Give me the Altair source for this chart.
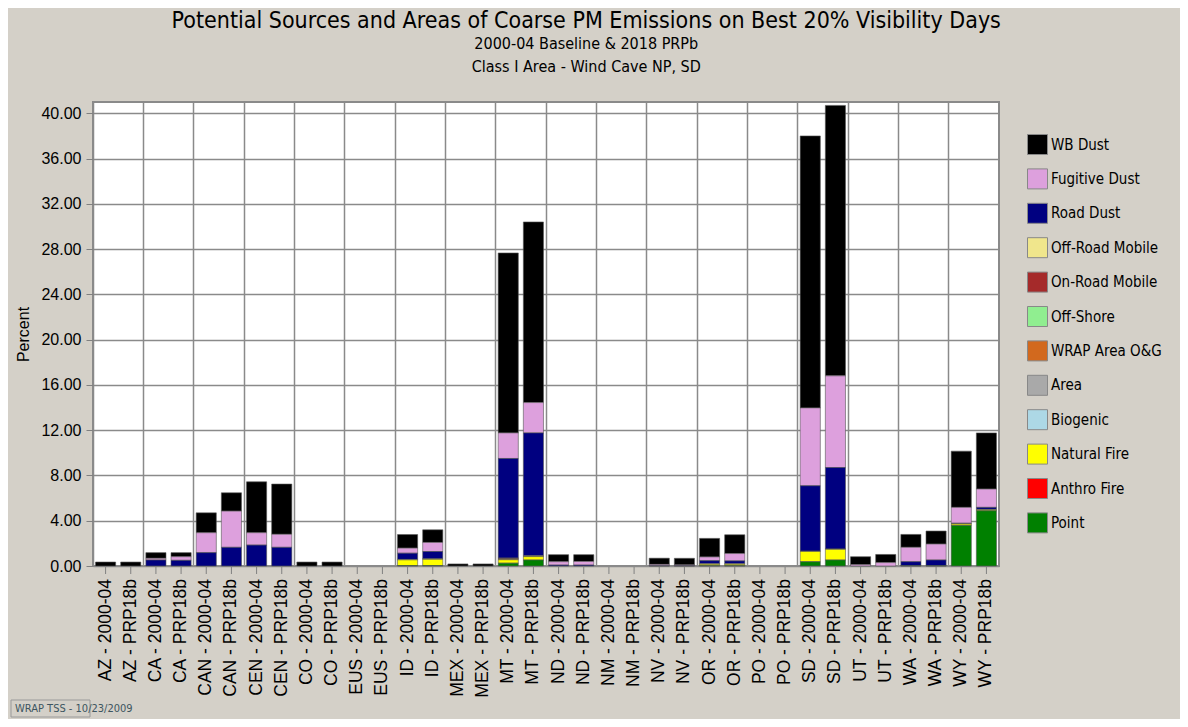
import altair as alt
import pandas as pd

states = ["AZ", "CA", "CAN", "CEN", "CO", "EUS", "ID", "MEX", "MT", "ND",
          "NM", "NV", "OR", "PO", "SD", "UT", "WA", "WY"]
scenarios = ["2000-04", "PRP18b"]

sources = ["WB Dust", "Fugitive Dust", "Road Dust", "Off-Road Mobile", "On-Road Mobile",
           "Off-Shore", "WRAP Area O&G", "Area", "Biogenic", "Natural Fire",
           "Anthro Fire", "Point"]
colors = ["#000000", "#DDA0DD", "#000080", "#F0E68C", "#A52A2A", "#90EE90",
          "#D2691E", "#A9A9A9", "#ADD8E6", "#FFFF00", "#FF0000", "#008000"]

# one value per bar: each state gives (2000-04, PRP18b)
wb_dust = [0.35, 0.35, 0.50, 0.36, 1.76, 1.62, 4.50, 4.44, 0.35, 0.35, 0, 0,
           1.20, 1.12, 0.18, 0.18, 15.90, 15.96, 0.62, 0.60, 0, 0, 0.55, 0.58,
           1.64, 1.66, 0, 0, 24.03, 23.90, 0.70, 0.72, 1.14, 1.15, 4.97, 4.96]
fugitive_dust = [0, 0, 0.15, 0.32, 1.76, 3.20, 1.09, 1.15, 0, 0, 0, 0,
                 0.45, 0.80, 0, 0, 2.26, 2.68, 0.30, 0.32, 0, 0, 0.12, 0.08,
                 0.33, 0.65, 0, 0, 6.88, 8.10, 0.12, 0.30, 1.27, 1.41, 1.40, 1.62]
road_dust = [0, 0, 0.53, 0.50, 1.18, 1.65, 1.85, 1.65, 0, 0, 0, 0,
             0.55, 0.65, 0, 0, 8.80, 10.86, 0.08, 0.08, 0, 0, 0.02, 0.02,
             0.27, 0.25, 0, 0, 5.78, 7.20, 0, 0, 0.36, 0.51, 0.04, 0.18]
off_road_mobile = [0, 0, 0, 0, 0, 0, 0, 0, 0, 0, 0, 0,
                   0.04, 0.04, 0, 0, 0.04, 0.04, 0, 0, 0, 0, 0, 0,
                   0.05, 0.05, 0, 0, 0.03, 0.03, 0, 0, 0, 0, 0.03, 0.04]
on_road_mobile = [0, 0, 0, 0, 0, 0, 0, 0, 0, 0, 0, 0,
                  0, 0, 0, 0, 0.05, 0.03, 0, 0, 0, 0, 0, 0,
                  0, 0, 0, 0, 0, 0, 0, 0, 0, 0, 0, 0]
off_shore = [0] * 36
wrap_area_og = [0, 0, 0, 0, 0, 0, 0, 0, 0, 0, 0, 0,
                0, 0, 0, 0, 0.06, 0, 0, 0, 0, 0, 0, 0,
                0, 0, 0, 0, 0, 0, 0, 0, 0, 0, 0, 0]
area = [0] * 36
biogenic = [0] * 36
natural_fire = [0, 0, 0, 0, 0, 0, 0, 0, 0, 0, 0, 0,
                0.50, 0.55, 0, 0, 0.30, 0.30, 0, 0, 0, 0, 0, 0,
                0.12, 0.12, 0, 0, 0.90, 0.94, 0, 0, 0, 0, 0.12, 0.08]
anthro_fire = [0] * 36
point = [0, 0, 0, 0, 0, 0, 0, 0, 0, 0, 0, 0,
         0.04, 0.04, 0, 0, 0.25, 0.53, 0, 0, 0, 0, 0, 0,
         0.03, 0.03, 0, 0, 0.38, 0.53, 0, 0, 0.02, 0.02, 3.59, 4.88]

series = [wb_dust, fugitive_dust, road_dust, off_road_mobile, on_road_mobile,
          off_shore, wrap_area_og, area, biogenic, natural_fire, anthro_fire, point]

rows = []
bar_rows = []
i = 0
for st in states:
    for sc in scenarios:
        bar_rows.append({"state": st, "scenario": sc, "label": f"{st} - {sc}"})
        for k, src in enumerate(sources):
            v = series[k][i]
            if v > 0:
                rows.append({"state": st, "scenario": sc, "source": src,
                             "value": v, "order": len(sources) - k})
        i += 1
df = pd.DataFrame(rows)
labels_df = pd.DataFrame(bar_rows)

NARROW = "Liberation Sans Narrow, Arial Narrow, DejaVu Sans Condensed, Liberation Sans"
REG = "Liberation Sans"
W, H = 906, 464

x_enc = alt.X("state:N", sort=states,
              scale=alt.Scale(paddingInner=0, paddingOuter=0),
              axis=alt.Axis(grid=True, bandPosition=0, labels=False, ticks=False,
                            domain=False, title=None, gridColor="#8a8a8a",
                            gridWidth=1.5))
xo_enc = alt.XOffset("scenario:N", sort=scenarios,
                     scale=alt.Scale(paddingInner=0.2, paddingOuter=0.1))

bars = alt.Chart(df).mark_bar(stroke="#555555", strokeWidth=0.6).encode(
    x=x_enc,
    xOffset=xo_enc,
    y=alt.Y("value:Q", stack="zero",
            scale=alt.Scale(domain=[0, 41], nice=False),
            axis=alt.Axis(values=list(range(0, 41, 4)), format=".2f",
                          title="Percent", titleFont=REG, titleFontSize=16,
                          titleFontWeight="normal", titlePadding=9,
                          labelFont=REG, labelFontSize=16, labelColor="#000000",
                          tickSize=7, tickColor="#808080", domain=False,
                          labelPadding=5, gridColor="#8a8a8a", gridWidth=1.5)),
    color=alt.Color("source:N",
                    scale=alt.Scale(domain=sources, range=colors),
                    legend=alt.Legend(title=None, orient="none", legendX=934,
                                      legendY=32, symbolType="square",
                                      symbolSize=400, symbolStrokeColor="#888888",
                                      symbolStrokeWidth=1, labelFont=NARROW,
                                      labelFontSize=15, labelColor="#000000",
                                      rowPadding=9.4, labelOffset=3, padding=0)),
    order=alt.Order("order:Q", sort="ascending"),
)

ticks = alt.Chart(labels_df).mark_rule(color="#808080").encode(
    x=alt.X("state:N", sort=states),
    xOffset=alt.XOffset("scenario:N", sort=scenarios),
    y=alt.value(H + 1),
    y2=alt.value(H + 8),
)

xlabels = alt.Chart(labels_df).mark_text(
    angle=270, align="right", baseline="middle", font=REG, fontSize=17.5,
    color="#000000"
).encode(
    x=alt.X("state:N", sort=states),
    xOffset=alt.XOffset("scenario:N", sort=scenarios),
    y=alt.value(H + 13),
    text="label:N",
)

stamp_box = alt.Chart(labels_df.head(1)).mark_rect(
    fill="#D4D0C8", stroke="#9a9a9a", strokeWidth=1
).encode(x=alt.value(-82), x2=alt.value(-3), y=alt.value(598), y2=alt.value(615))
stamp = alt.Chart(labels_df.head(1)).mark_text(
    text="WRAP TSS - 10/23/2009", font=NARROW, fontSize=11, color="#3d5560",
    align="left", baseline="middle"
).encode(x=alt.value(-78), y=alt.value(607))

chart = alt.layer(bars, ticks, xlabels, stamp_box, stamp).properties(
    width=W, height=H,
    autosize=alt.AutoSizeParams(type="none"),
    padding={"left": 85, "top": 94, "right": 181, "bottom": 153},
    background="#D4D0C8",
    title=alt.Title(
        text="Potential Sources and Areas of Coarse PM Emissions on Best 20% Visibility Days",
        subtitle=["2000-04 Baseline & 2018 PRPb", "Class I Area - Wind Cave NP, SD"],
        anchor="middle", frame="bounds", font=NARROW, fontSize=23,
        fontWeight="normal", color="#000000", subtitleFont=NARROW,
        subtitleFontSize=16, subtitleColor="#000000", subtitleLineHeight=23,
        subtitlePadding=3, offset=27,
    ),
).configure_view(fill="#FFFFFF", stroke="#8a8a8a", strokeWidth=2)

chart.save("out.html", embed_options={"renderer": "svg", "actions": False})
